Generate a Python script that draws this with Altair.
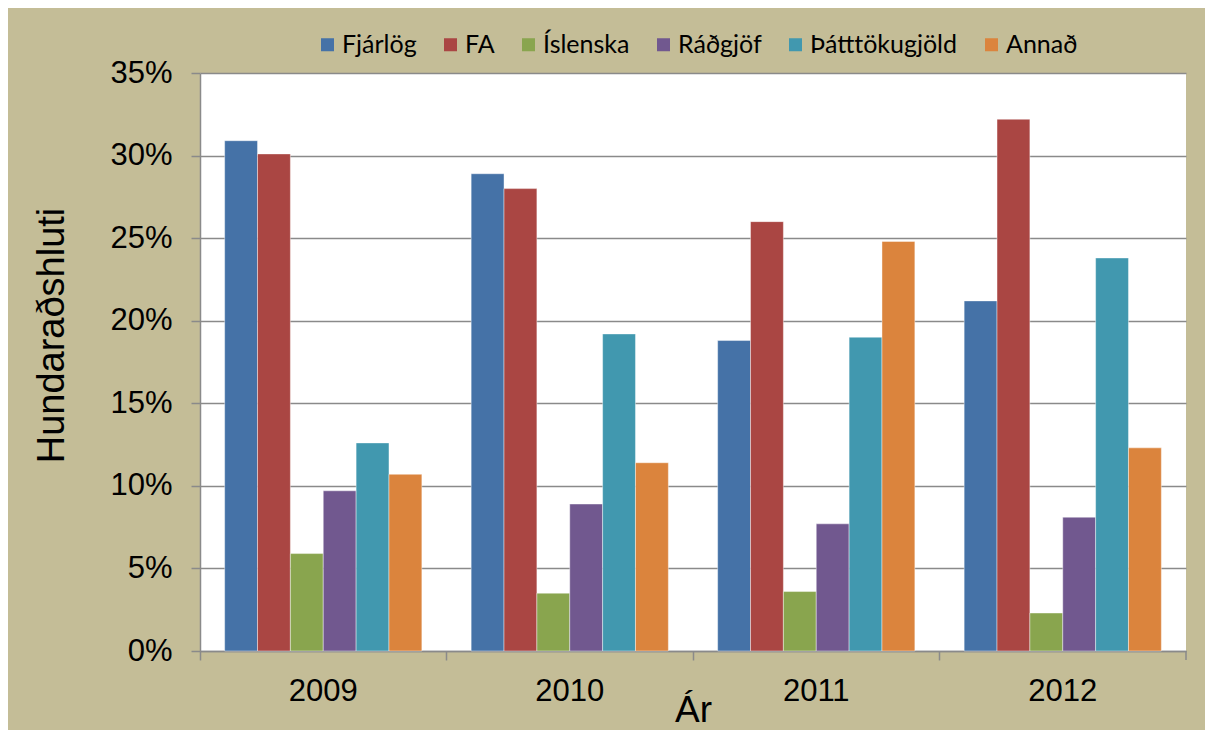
import altair as alt
import pandas as pd

years = ["2009", "2010", "2011", "2012"]
series = ["Fjárlög", "FA", "Íslenska", "Ráðgjöf", "Þátttökugjöld", "Annað"]
colors = ["#4572A7", "#AA4643", "#89A54E", "#71588F", "#4198AF", "#DB843D"]

# percent values per series, one entry per year
fjarlog = [30.9, 28.9, 18.8, 21.2]
fa = [30.1, 28.0, 26.0, 32.2]
islenska = [5.9, 3.5, 3.6, 2.3]
radgjof = [9.7, 8.9, 7.7, 8.1]
thattt = [12.6, 19.2, 19.0, 23.8]
annad = [10.7, 11.4, 24.8, 12.3]

y_ticks = [0, 0.05, 0.10, 0.15, 0.20, 0.25, 0.30, 0.35]

values = [fjarlog, fa, islenska, radgjof, thattt, annad]
rows = []
for s, vals in zip(series, values):
    for yr, v in zip(years, vals):
        rows.append({"Ár": yr, "Flokkur": s, "Hlutfall": v / 100.0})
df = pd.DataFrame(rows)

AX = "#8A8A8A"
FONT = "Liberation Sans"

bars = alt.Chart(df).mark_bar(stroke="white", strokeWidth=0.7, strokeOpacity=0.6).encode(
    x=alt.X("Ár:N", sort=years,
            scale=alt.Scale(paddingInner=0, paddingOuter=0),
            axis=alt.Axis(title="Ár", labelAngle=0, bandPosition=0,
                          labelFont=FONT, labelFontSize=31, labelColor="black",
                          labelBaseline="alphabetic", labelPadding=40,
                          tickSize=9, tickColor=AX, tickWidth=1.5,
                          domainColor=AX, domainWidth=1.5,
                          titleFont=FONT, titleFontSize=37, titleFontWeight="normal",
                          titleColor="black", titleBaseline="alphabetic",
                          titleY=70)),
    xOffset=alt.XOffset("Flokkur:N", sort=series,
                        scale=alt.Scale(paddingInner=0, paddingOuter=0.75)),
    y=alt.Y("Hlutfall:Q",
            scale=alt.Scale(domain=[0, 0.35], nice=False),
            axis=alt.Axis(title="Hundaraðshluti", values=y_ticks, format=".0%",
                          labelFont=FONT, labelFontSize=31, labelColor="black",
                          labelPadding=19, tickSize=9, tickColor=AX, tickWidth=1.5,
                          domainColor=AX, domainWidth=1.5,
                          grid=True, gridColor=AX, gridWidth=1.5,
                          titleFont=FONT, titleFontSize=38, titleFontWeight="normal",
                          titleColor="black", titleAngle=-90, titleAlign="center",
                          titleBaseline="bottom", titleX=-129, titleY=262)),
    color=alt.Color("Flokkur:N", sort=series,
                    scale=alt.Scale(domain=series, range=colors),
                    legend=alt.Legend(title=None, orient="none", direction="horizontal",
                                      columns=6, legendX=115, legendY=-41,
                                      symbolType="square", symbolSize=169,
                                      symbolStrokeWidth=0, labelFont="Lato",
                                      labelFontSize=25, labelColor="black",
                                      labelOffset=2, columnPadding=21, padding=0)),
)

end_tick = alt.Chart(pd.DataFrame({"a": [0]})).mark_rule(color=AX, strokeWidth=1.5).encode(
    x=alt.value(986), y=alt.value(578), y2=alt.value(587)
)

chart = alt.layer(bars, end_tick).properties(
    width=986, height=578,
    padding={"left": 192, "top": 65, "right": 19, "bottom": 79},
    autosize=alt.AutoSizeParams(type="none"),
    background="#C4BD97",
).configure_view(fill="white", stroke=None)

chart.save("out.html", embed_options={"renderer": "svg", "actions": False})
